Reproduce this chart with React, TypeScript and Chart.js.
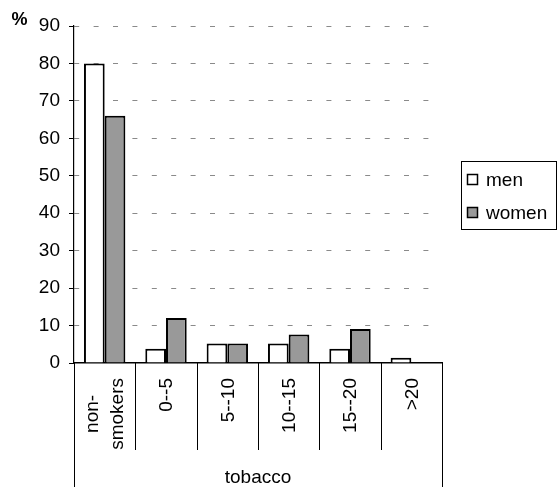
import React, { useEffect, useRef } from "react";
import { Chart, registerables } from "chart.js";

Chart.register(...registerables);

const categories: (string | string[])[] = [["non-", "smokers"], "0--5", "5--10", "10--15", "15--20", ">20"];
const menValues = [80, 3.8, 5.2, 5.2, 3.8, 1.4];
const womenValues = [66, 12, 5.2, 7.6, 9.1, 0];
const seriesNames = ["men", "women"];
const yTicks = { min: 0, max: 90, step: 10 };
const axisTitle = "tobacco";
const unitLabel = "%";

const FONT = "'Liberation Sans', Arial, sans-serif";
const FS = 19;
const colors = ["#ffffff", "#999999"];

const decorPlugin = {
  id: "decor",
  afterDraw(chart: any) {
    const ctx = chart.ctx as CanvasRenderingContext2D;
    const xs = chart.scales.x;
    const area = chart.chartArea;
    const H = chart.height;
    ctx.save();
    ctx.strokeStyle = "#000";
    ctx.lineWidth = 1;
    const n = categories.length;
    for (let i = 0; i <= n; i++) {
      const x = Math.round(xs.getPixelForValue(i - 0.5)) + 0.5;
      const yEnd = i === 0 || i === n ? H : area.bottom + 87;
      ctx.beginPath();
      ctx.moveTo(x, area.bottom);
      ctx.lineTo(x, yEnd);
      ctx.stroke();
    }
    ctx.fillStyle = "#000";
    ctx.font = `${FS}px ${FONT}`;
    const top = area.bottom + 15;
    const lh = 25;
    categories.forEach((c, i) => {
      const lines = Array.isArray(c) ? c : [c];
      const cx = xs.getPixelForValue(i);
      const maxW = Math.max(...lines.map((l) => ctx.measureText(l).width));
      const midY = top + maxW / 2;
      lines.forEach((line, j) => {
        const lx = cx + (j - (lines.length - 1) / 2) * lh;
        ctx.save();
        ctx.translate(lx, midY);
        ctx.rotate(-Math.PI / 2);
        ctx.textAlign = "center";
        ctx.textBaseline = "middle";
        ctx.fillText(line, 0, 1);
        ctx.restore();
      });
    });
    ctx.textAlign = "center";
    ctx.textBaseline = "middle";
    ctx.fillText(axisTitle, (area.left + area.right) / 2, 478);
    ctx.font = `bold 18px ${FONT}`;
    ctx.fillText(unitLabel, 19.5, 20);
    const lx = 461.5, ly = 161.5, lw = 95, lhgt = 68;
    ctx.strokeStyle = "#000";
    ctx.lineWidth = 1;
    ctx.strokeRect(lx, ly, lw, lhgt);
    ctx.font = `${FS}px ${FONT}`;
    ctx.textAlign = "left";
    const rowY = [180, 213];
    seriesNames.forEach((name, i) => {
      ctx.fillStyle = colors[i];
      ctx.fillRect(467.5, rowY[i] - 5.5, 10, 10);
      ctx.strokeStyle = "#000";
      ctx.lineWidth = 1.5;
      ctx.strokeRect(467.5, rowY[i] - 5.5, 10, 10);
      ctx.fillStyle = "#000";
      ctx.fillText(name, 486, rowY[i] + 1);
    });
    ctx.restore();
  },
};

export default function App() {
  const ref = useRef<HTMLCanvasElement | null>(null);
  useEffect(() => {
    if (!ref.current) return;
    const chart = new Chart(ref.current, {
      type: "bar",
      data: {
        labels: categories.map((c) => (Array.isArray(c) ? c.join("") : c)),
        datasets: [
          {
            label: seriesNames[0],
            data: menValues,
            backgroundColor: colors[0],
            borderColor: "#000",
            borderWidth: 2,
            categoryPercentage: 0.675,
            barPercentage: 1,
          },
          {
            label: seriesNames[1],
            data: womenValues,
            backgroundColor: colors[1],
            borderColor: "#000",
            borderWidth: 2,
            categoryPercentage: 0.675,
            barPercentage: 1,
          },
        ],
      },
      options: {
        responsive: false,
        animation: false,
        layout: { padding: { left: 0, right: 116, top: 26, bottom: 0 } },
        plugins: { legend: { display: false }, tooltip: { enabled: false } },
        scales: {
          x: {
            offset: true,
            grid: { display: false },
            ticks: { display: false },
            border: { display: true, color: "#000", width: 1.5 },
            afterFit: (s: any) => {
              s.height = 124;
            },
          },
          y: {
            min: yTicks.min,
            max: yTicks.max,
            ticks: {
              stepSize: yTicks.step,
              color: "#000",
              padding: 9,
              font: { family: FONT, size: FS },
            },
            grid: {
              color: (c: any) => (c.tick && c.tick.value === 0 ? "rgba(0,0,0,0)" : "#8a8a8a"),
              tickColor: "#000",
              tickLength: 5,
              lineWidth: 1,
            },
            border: { display: true, color: "#000", width: 1.2, dash: [5, 14.4], dashOffset: 0 },
            afterFit: (s: any) => {
              s.width = 74;
            },
          },
        },
      },
      plugins: [decorPlugin],
    });
    return () => chart.destroy();
  }, []);
  return (
    <div style={{ position: "fixed", left: 0, top: 0, width: 558, height: 487, background: "#fff" }}>
      <canvas ref={ref} width={558} height={487} style={{ display: "block" }} />
    </div>
  );
}
